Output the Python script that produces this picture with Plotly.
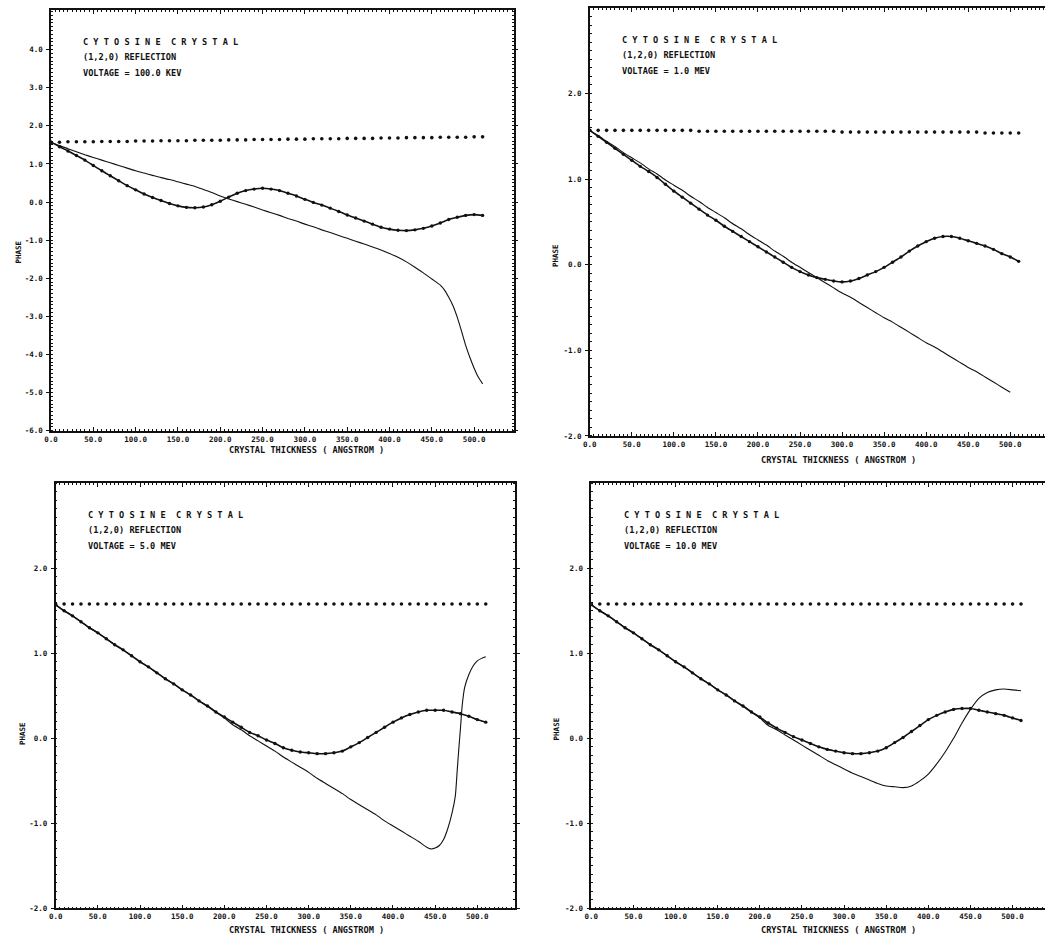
import plotly.graph_objects as go

# ---------------------------------------------------------------- data
# crystal thickness sampling (angstrom)
thickness = [0, 10, 20, 30, 40, 50, 60, 70, 80, 90, 100, 110, 120, 130, 140, 150,
             160, 170, 180, 190, 200, 210, 220, 230, 240, 250, 260, 270, 280, 290,
             300, 310, 320, 330, 340, 350, 360, 370, 380, 390, 400, 410, 420, 430,
             440, 450, 460, 470, 480, 490, 500, 510]

x_tick_values = [0, 50, 100, 150, 200, 250, 300, 350, 400, 450, 500]
x_tick_labels = ["0.0", "50.0", "100.0", "150.0", "200.0", "250.0", "300.0",
                 "350.0", "400.0", "450.0", "500.0"]

voltages = ["100.0 KEV", "1.0 MEV", "5.0 MEV", "10.0 MEV"]

# --- 100 keV
kev100_flat = [1.57, 1.57, 1.58, 1.58, 1.58, 1.58, 1.59, 1.59, 1.59, 1.59, 1.60, 1.60,
               1.60, 1.61, 1.61, 1.61, 1.61, 1.62, 1.62, 1.62, 1.62, 1.63, 1.63, 1.63,
               1.64, 1.64, 1.64, 1.64, 1.65, 1.65, 1.65, 1.66, 1.66, 1.66, 1.66, 1.67,
               1.67, 1.67, 1.67, 1.68, 1.68, 1.68, 1.69, 1.69, 1.69, 1.69, 1.70, 1.70,
               1.70, 1.70, 1.71, 1.71]
kev100_kin = [1.57, 1.45, 1.34, 1.22, 1.10, 0.96, 0.82, 0.69, 0.56, 0.43, 0.32, 0.21,
              0.12, 0.04, -0.04, -0.10, -0.14, -0.15, -0.13, -0.07, 0.02, 0.13, 0.23,
              0.30, 0.34, 0.36, 0.34, 0.30, 0.23, 0.16, 0.07, -0.01, -0.08, -0.16,
              -0.25, -0.34, -0.42, -0.50, -0.58, -0.66, -0.71, -0.74, -0.75, -0.73,
              -0.69, -0.63, -0.55, -0.46, -0.40, -0.35, -0.33, -0.35]
kev100_dyn_x = [0, 10, 20, 30, 40, 50, 60, 70, 80, 90, 100, 110, 120, 130, 140, 150,
                160, 170, 180, 190, 200, 210, 220, 230, 240, 250, 260, 270, 280, 290,
                300, 310, 320, 330, 340, 350, 360, 370, 380, 390, 400, 410, 420, 430,
                440, 450, 460, 465, 470, 475, 480, 485, 490, 495, 500, 505, 510]
kev100_dyn = [1.57, 1.48, 1.40, 1.32, 1.24, 1.17, 1.10, 1.03, 0.96, 0.89, 0.82, 0.76,
              0.70, 0.64, 0.59, 0.53, 0.47, 0.41, 0.33, 0.25, 0.16, 0.08, 0.01, -0.06,
              -0.13, -0.21, -0.28, -0.35, -0.43, -0.50, -0.58, -0.65, -0.73, -0.80,
              -0.88, -0.95, -1.03, -1.10, -1.18, -1.26, -1.35, -1.45, -1.57, -1.71,
              -1.86, -2.02, -2.18, -2.31, -2.50, -2.72, -3.02, -3.38, -3.76, -4.08,
              -4.36, -4.60, -4.77]

# --- 1.0 MeV
mev1_flat = [1.57, 1.57, 1.57, 1.57, 1.57, 1.57, 1.57, 1.57, 1.57, 1.57, 1.57, 1.57,
             1.57, 1.56, 1.56, 1.56, 1.56, 1.56, 1.56, 1.56, 1.56, 1.56, 1.56, 1.56,
             1.56, 1.56, 1.56, 1.56, 1.56, 1.56, 1.55, 1.55, 1.55, 1.55, 1.55, 1.55,
             1.55, 1.55, 1.55, 1.55, 1.55, 1.55, 1.55, 1.55, 1.55, 1.55, 1.55, 1.54,
             1.54, 1.54, 1.54, 1.54]
mev1_kin = [1.57, 1.50, 1.43, 1.36, 1.29, 1.22, 1.15, 1.09, 1.02, 0.94, 0.86, 0.79,
            0.72, 0.65, 0.58, 0.52, 0.45, 0.39, 0.33, 0.27, 0.21, 0.15, 0.09, 0.03,
            -0.03, -0.08, -0.12, -0.15, -0.17, -0.19, -0.20, -0.19, -0.16, -0.12,
            -0.08, -0.03, 0.03, 0.09, 0.16, 0.22, 0.27, 0.31, 0.33, 0.33, 0.31, 0.28,
            0.25, 0.22, 0.18, 0.13, 0.09, 0.04]
mev1_dyn = [1.57, 1.51, 1.44, 1.38, 1.31, 1.25, 1.19, 1.12, 1.06, 0.99, 0.93, 0.87,
            0.80, 0.74, 0.67, 0.61, 0.55, 0.48, 0.42, 0.35, 0.29, 0.23, 0.16, 0.10,
            0.03, -0.03, -0.09, -0.15, -0.21, -0.27, -0.33, -0.38, -0.44, -0.50,
            -0.56, -0.62, -0.67, -0.73, -0.79, -0.85, -0.91, -0.96, -1.02, -1.08,
            -1.14, -1.20, -1.25, -1.31, -1.37, -1.43, -1.49]

# --- 5.0 MeV
mev5_flat = [1.58, 1.58, 1.58, 1.58, 1.58, 1.58, 1.58, 1.58, 1.58, 1.58, 1.58, 1.58,
             1.58, 1.58, 1.58, 1.58, 1.58, 1.58, 1.58, 1.58, 1.58, 1.58, 1.58, 1.58,
             1.58, 1.58, 1.58, 1.58, 1.58, 1.58, 1.58, 1.58, 1.58, 1.58, 1.58, 1.58,
             1.58, 1.58, 1.58, 1.58, 1.58, 1.58, 1.58, 1.58, 1.58, 1.58, 1.58, 1.58,
             1.58, 1.58, 1.58, 1.58]
mev5_kin = [1.57, 1.50, 1.44, 1.37, 1.30, 1.24, 1.17, 1.10, 1.04, 0.97, 0.90, 0.84,
            0.77, 0.70, 0.64, 0.57, 0.51, 0.44, 0.38, 0.31, 0.25, 0.19, 0.13, 0.07,
            0.03, -0.02, -0.06, -0.11, -0.14, -0.16, -0.17, -0.18, -0.18, -0.17,
            -0.15, -0.10, -0.05, 0.01, 0.07, 0.13, 0.19, 0.24, 0.28, 0.31, 0.33, 0.33,
            0.33, 0.31, 0.29, 0.26, 0.22, 0.19]
mev5_dyn_x = [0, 10, 20, 30, 40, 50, 60, 70, 80, 90, 100, 110, 120, 130, 140, 150,
              160, 170, 180, 190, 200, 210, 220, 230, 240, 250, 260, 270, 280, 290,
              300, 310, 320, 330, 340, 350, 360, 370, 380, 390, 400, 410, 420, 430,
              440, 445, 450, 455, 460, 465, 470, 474, 476, 478, 480, 482, 485, 490,
              495, 500, 505, 510]
mev5_dyn = [1.57, 1.50, 1.44, 1.37, 1.30, 1.24, 1.17, 1.10, 1.04, 0.97, 0.90, 0.84,
            0.77, 0.70, 0.64, 0.57, 0.51, 0.44, 0.38, 0.31, 0.24, 0.16, 0.10, 0.03,
            -0.03, -0.09, -0.15, -0.22, -0.28, -0.34, -0.40, -0.47, -0.53, -0.59,
            -0.65, -0.72, -0.78, -0.84, -0.90, -0.97, -1.03, -1.09, -1.15, -1.21,
            -1.28, -1.30, -1.29, -1.26, -1.19, -1.06, -0.88, -0.67, -0.40, -0.13,
            0.12, 0.38, 0.60, 0.75, 0.85, 0.91, 0.94, 0.96]

# --- 10.0 MeV
mev10_flat = [1.58, 1.58, 1.58, 1.58, 1.58, 1.58, 1.58, 1.58, 1.58, 1.58, 1.58, 1.58,
              1.58, 1.58, 1.58, 1.58, 1.58, 1.58, 1.58, 1.58, 1.58, 1.58, 1.58, 1.58,
              1.58, 1.58, 1.58, 1.58, 1.58, 1.58, 1.58, 1.58, 1.58, 1.58, 1.58, 1.58,
              1.58, 1.58, 1.58, 1.58, 1.58, 1.58, 1.58, 1.58, 1.58, 1.58, 1.58, 1.58,
              1.58, 1.58, 1.58, 1.58]
mev10_kin = [1.57, 1.50, 1.44, 1.37, 1.30, 1.24, 1.17, 1.10, 1.04, 0.97, 0.90, 0.84,
             0.77, 0.70, 0.64, 0.57, 0.51, 0.44, 0.38, 0.31, 0.25, 0.18, 0.12, 0.07,
             0.02, -0.02, -0.06, -0.10, -0.13, -0.15, -0.17, -0.18, -0.18, -0.17,
             -0.15, -0.11, -0.05, 0.01, 0.08, 0.15, 0.22, 0.27, 0.31, 0.34, 0.35, 0.35,
             0.33, 0.31, 0.29, 0.27, 0.24, 0.21]
mev10_dyn = [1.57, 1.50, 1.44, 1.37, 1.30, 1.24, 1.17, 1.10, 1.04, 0.97, 0.90, 0.84,
             0.77, 0.70, 0.64, 0.57, 0.51, 0.44, 0.38, 0.31, 0.24, 0.15, 0.10, 0.04,
             -0.02, -0.08, -0.14, -0.20, -0.26, -0.31, -0.36, -0.41, -0.45, -0.49,
             -0.53, -0.56, -0.57, -0.58, -0.56, -0.50, -0.42, -0.30, -0.16, 0.00,
             0.18, 0.34, 0.47, 0.54, 0.57, 0.58, 0.57, 0.56]

# ---------------------------------------------------------------- layout helpers
W, H = 1045, 944
MONO = "DejaVu Sans Mono"
INK = "#111111"


def fx(p):
    return p / W


def fy(p):
    return 1 - p / H


# panel frames in pixels: left, right, top, bottom ; axis ranges
panels = [
    dict(l=44.3, r=510.0, t=10.0, b=433.0, xr=[0, 546.6], yr=[-6.0, 5.04], open_right=False),
    dict(l=586.7, r=1045.0, t=8.0, b=438.3, xr=[0, 541.3], yr=[-2.0, 3.0], open_right=True),
    dict(l=49.0, r=511.7, t=485.7, b=913.3, xr=[0, 545.0], yr=[-2.0, 3.0], open_right=False),
    dict(l=588.3, r=1045.0, t=485.7, b=913.3, xr=[0, 538.5], yr=[-2.0, 3.0], open_right=True),
]

series = [
    (kev100_flat, kev100_kin, kev100_dyn_x, kev100_dyn),
    (mev1_flat, mev1_kin, thickness[:len(mev1_dyn)], mev1_dyn),
    (mev5_flat, mev5_kin, mev5_dyn_x, mev5_dyn),
    (mev10_flat, mev10_kin, thickness, mev10_dyn),
]

fig = go.Figure()

for i, (pan, (flat, kin, dyn_x, dyn)) in enumerate(zip(panels, series)):
    sfx = "" if i == 0 else str(i + 1)
    xa, ya = "x" + sfx, "y" + sfx

    fig.add_trace(go.Scatter(x=thickness, y=flat, mode="markers",
                             marker=dict(size=3.6, color=INK, symbol="circle"),
                             xaxis=xa, yaxis=ya, showlegend=False, hoverinfo="skip"))
    fig.add_trace(go.Scatter(x=thickness, y=kin, mode="lines+markers",
                             line=dict(color=INK, width=1.6, shape="spline", smoothing=0.6),
                             marker=dict(size=3.4, color=INK, symbol="circle"),
                             xaxis=xa, yaxis=ya, showlegend=False, hoverinfo="skip"))
    fig.add_trace(go.Scatter(x=dyn_x, y=dyn, mode="lines",
                             line=dict(color=INK, width=1.1, shape="spline", smoothing=0.5),
                             xaxis=xa, yaxis=ya, showlegend=False, hoverinfo="skip"))

    tickfont = dict(family=MONO, size=7.5, color=INK, weight="bold")
    xaxis = dict(
        domain=[fx(pan["l"]), min(1.0, fx(pan["r"]))],
        range=pan["xr"], anchor=ya,
        tickmode="array", tickvals=x_tick_values, ticktext=x_tick_labels,
        ticks="inside", ticklen=4, tickwidth=1, tickcolor=INK,
        minor=dict(ticks="inside", ticklen=2, tickwidth=1, tickcolor=INK,
                   tickmode="linear", tick0=0, dtick=5),
        showline=True, linewidth=1.6, linecolor=INK, mirror="allticks",
        showgrid=False, zeroline=False, tickfont=tickfont, ticklabelstandoff=0,
        fixedrange=True,
    )
    yaxis = dict(
        domain=[fy(pan["b"]), fy(pan["t"])],
        range=pan["yr"], anchor=xa,
        tickmode="linear", tick0=0, dtick=1, tickformat=".1f",
        ticks="outside", ticklen=3, tickwidth=1, tickcolor=INK,
        minor=dict(ticks="inside", ticklen=2, tickwidth=1, tickcolor=INK,
                   tickmode="linear", tick0=0, dtick=0.1),
        showline=True, linewidth=1.6, linecolor=INK,
        mirror=False if pan["open_right"] else "allticks",
        showgrid=False, zeroline=False, tickfont=tickfont, ticklabelstandoff=2,
        fixedrange=True,
    )
    if i == 0:
        # the 100 keV panel labels the ticks from -6 to 4
        yaxis.update(tickmode="array", tickvals=[-6, -5, -4, -3, -2, -1, 0, 1, 2, 3, 4],
                     ticktext=["-6.0", "-5.0", "-4.0", "-3.0", "-2.0", "-1.0", "0.0",
                               "1.0", "2.0", "3.0", "4.0"])
    else:
        yaxis.update(tickmode="array", tickvals=[-2, -1, 0, 1, 2],
                     ticktext=["-2.0", "-1.0", "0.0", "1.0", "2.0"])
    fig.layout["xaxis" + sfx] = xaxis
    fig.layout["yaxis" + sfx] = yaxis

# ---------------------------------------------------------------- text
heading = "C Y T O S I N E\u00a0\u00a0C R Y S T A L"
annotations = []
for pan, volt in zip(panels, voltages):
    left = pan["l"] + 30.5
    top = pan["t"] + 32.5
    lines = [(heading, top), ("(1,2,0) REFLECTION", top + 15),
             ("VOLTAGE = " + volt, top + 31)]
    for txt, ypix in lines:
        annotations.append(dict(text=txt, x=fx(left), y=fy(ypix), xref="paper", yref="paper",
                                xanchor="left", yanchor="middle", showarrow=False,
                                font=dict(family=MONO, size=8.6, color=INK, weight="bold")))

# axis titles
phase_pos = [(12, 253), (552, 257), (15, 737), (553, 733)]
xtitle_pos = [(302, 452), (837, 462), (302, 935), (837, 935)]
for (px, py) in phase_pos:
    annotations.append(dict(text="PHASE", x=fx(px), y=fy(py), xref="paper", yref="paper",
                            xanchor="center", yanchor="middle", showarrow=False, textangle=-90,
                            font=dict(family=MONO, size=7.5, color=INK, weight="bold")))
for (px, py) in xtitle_pos:
    annotations.append(dict(text="CRYSTAL THICKNESS ( ANGSTROM )", x=fx(px), y=fy(py),
                            xref="paper", yref="paper", xanchor="center", yanchor="middle",
                            showarrow=False,
                            font=dict(family=MONO, size=8.6, color=INK, weight="bold")))

fig.update_layout(
    width=W, height=H,
    margin=dict(l=0, r=0, t=0, b=0),
    paper_bgcolor="white", plot_bgcolor="white",
    annotations=annotations,
    showlegend=False,
)

fig.write_html("out.html", config={"displayModeBar": False})
